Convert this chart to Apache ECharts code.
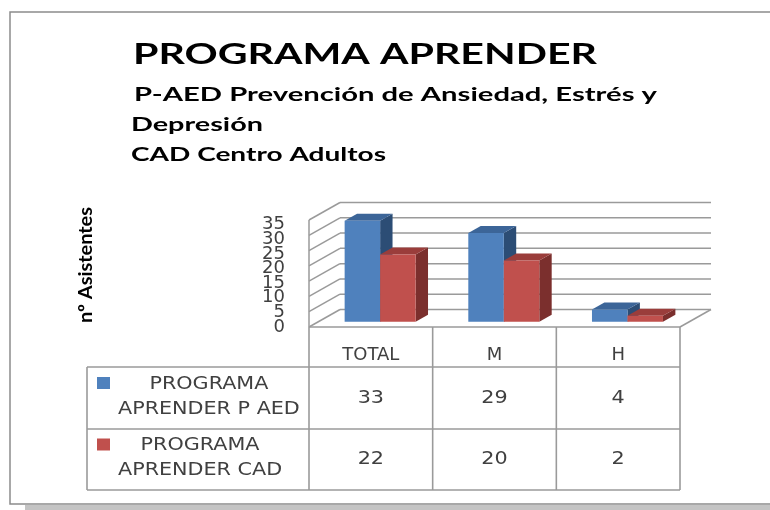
<!DOCTYPE html>
<html>
<head>
<meta charset="utf-8">
<script src="https://cdn.jsdelivr.net/npm/echarts@6/dist/echarts.min.js"></script>
<style>
html, body { margin: 0; padding: 0; background: #fff; }
#chart { width: 770px; height: 510px; }
</style>
</head>
<body>
<div id="chart"></div>
<script>
var categories = ['TOTAL', 'M', 'H'];
var seriesNames = ['PROGRAMA APRENDER P AED', 'PROGRAMA APRENDER CAD'];
var legendLines = [['PROGRAMA', 'APRENDER P AED'], ['PROGRAMA', 'APRENDER CAD']];
var aedValues = [33, 29, 4];
var cadValues = [22, 20, 2];
var yTicks = [0, 5, 10, 15, 20, 25, 30, 35];
var titleText = 'PROGRAMA APRENDER';
var subtitleLines = [' P-AED Prevención de Ansiedad, Estrés y', 'Depresión', 'CAD Centro Adultos'];
var axisName = 'nº Asistentes';

// depth of the fake 3d box (pixels)
var DX = 31, DY = -17.5;
var gridColor = '#9a9a9a';
var textGrey = '#404040';
var headFamily = '"Lato", "Open Sans", "Noto Sans", sans-serif';

var ctx = document.createElement('canvas').getContext('2d');
function textWidth(str, font) {
    ctx.font = font;
    return ctx.measureText(str).width;
}

function barRenderer(colors, slot) {
    return function (params, api) {
        var cat = api.value(0);
        var base = api.coord([cat, 0]);
        var top = api.coord([cat, api.value(1)]);
        var band = api.size([1, 0])[0];
        var bw = band * 0.287;
        var fx = base[0] + DX * 0.3 + (slot === 0 ? -bw : 0);
        var fy0 = base[1] + DY * 0.3;
        var fy1 = top[1] + DY * 0.3;
        var ddx = DX * 0.4, ddy = DY * 0.4;
        return {
            type: 'group',
            children: [
                { type: 'polygon', shape: { points: [[fx + bw, fy1], [fx + bw + ddx, fy1 + ddy], [fx + bw + ddx, fy0 + ddy], [fx + bw, fy0]] }, style: { fill: colors[2] } },
                { type: 'polygon', shape: { points: [[fx, fy1], [fx + bw, fy1], [fx + bw + ddx, fy1 + ddy], [fx + ddx, fy1 + ddy]] }, style: { fill: colors[1] } },
                { type: 'rect', shape: { x: fx, y: fy1, width: bw, height: fy0 - fy1 }, style: { fill: colors[0] } }
            ]
        };
    };
}

function ln(x1, y1, x2, y2, w) {
    return { type: 'line', shape: { x1: x1, y1: y1, x2: x2, y2: y2 }, style: { stroke: gridColor, lineWidth: w || 1.5 } };
}

// back wall, side wall, floor and the value labels of the left wall
function wallRenderer(params, api) {
    var cs = params.coordSys;
    var v = api.value(1);
    var y = api.coord([0, v])[1];
    var x0 = cs.x, x1 = cs.x + cs.width;
    var yb = cs.y + cs.height;
    var ch = [
        ln(x0 + DX, y + DY, x1 + DX, y + DY),
        ln(x0, y, x0 + DX, y + DY),
        {
            type: 'text', x: x0 - 24, y: y + (yb - y) * 0.045,
            style: { text: String(v), font: '18px "DejaVu Sans"', fill: textGrey, align: 'right', verticalAlign: 'middle' }
        }
    ];
    if (v === yTicks[0]) {
        ch.push(ln(x0, y, x1, y));
        ch.push(ln(x1, y, x1 + DX, y + DY));
    }
    if (v === yTicks[yTicks.length - 1]) {
        ch.push(ln(x0, yb, x0, cs.y));
    }
    return { type: 'group', children: ch };
}

var chart = echarts.init(document.getElementById('chart'));

var option = {
    backgroundColor: '#fff',
    animation: false,
    grid: { left: 309, top: 220, width: 371, height: 107 },
    xAxis: {
        type: 'category',
        data: categories,
        axisLine: { show: false },
        axisTick: { show: false },
        axisLabel: { margin: 28, verticalAlign: 'middle', fontFamily: 'DejaVu Sans', fontSize: 18, color: textGrey }
    },
    yAxis: {
        type: 'value',
        min: 0,
        max: 35,
        interval: 5,
        axisLine: { show: false },
        axisTick: { show: false },
        splitLine: { show: false },
        axisLabel: { show: false }
    },
    series: [
        {
            type: 'custom',
            name: 'walls',
            silent: true,
            clip: false,
            renderItem: wallRenderer,
            encode: { x: 0, y: 1 },
            data: yTicks.map(function (v) { return [0, v]; })
        },
        {
            type: 'custom',
            name: seriesNames[0],
            clip: false,
            renderItem: barRenderer(['#4F81BD', '#3C6598', '#2C4D75'], 0),
            encode: { x: 0, y: 1 },
            data: aedValues.map(function (v, i) { return [i, v]; })
        },
        {
            type: 'custom',
            name: seriesNames[1],
            clip: false,
            renderItem: barRenderer(['#C0504D', '#9A3D3B', '#7B2F2D'], 1),
            encode: { x: 0, y: 1 },
            data: cadValues.map(function (v, i) { return [i, v]; })
        }
    ]
};
chart.setOption(option);

var g = [];
g.push({ type: 'rect', shape: { x: 25, y: 505, width: 760, height: 6 }, style: { fill: '#c4c4c4' } });
g.push({ type: 'rect', shape: { x: 10, y: 12, width: 800, height: 492 }, style: { fill: 'none', stroke: '#8c8c8c', lineWidth: 1.5 } });

function txt(str, x, y, font, align, sx, color, rot) {
    return {
        type: 'text', x: x, y: y, scaleX: sx || 1, rotation: rot || 0,
        style: { text: str, font: font, fill: color || '#000', align: align || 'left', verticalAlign: 'middle', textAlign: align || 'left', textVerticalAlign: 'middle' }
    };
}
// text stretched to the width it has in the original picture
function fitted(str, x, y, font, w) {
    return txt(str, x, y, font, 'left', w / textWidth(str, font));
}

var titleFont = 'bold 28px ' + headFamily;
var subFont = 'bold 19px ' + headFamily;
g.push(fitted(titleText, 133, 55, titleFont, 464));
var subX = [127, 131, 131];
var subY = [95, 125, 155];
var subW = [530, 132, 255];
subtitleLines.forEach(function (s, i) {
    g.push(fitted(s, subX[i], subY[i], subFont, subW[i]));
});
var axFont = 'bold 19px ' + headFamily;
g.push(txt(axisName, 86, 265, axFont, 'center', 116 / textWidth(axisName, axFont), '#000', Math.PI / 2));

// data table
var centers = categories.map(function (c, i) { return chart.convertToPixel({ gridIndex: 0 }, [i, 0])[0]; });
var band = centers[1] - centers[0];
var floorY = chart.convertToPixel({ gridIndex: 0 }, [0, 0])[1];
var rowY = [367, 429, 490];
var tableLeft = 87;
var colX = [centers[0] - band / 2].concat(centers.map(function (c) { return c + band / 2; }));
colX.forEach(function (x) { g.push(ln(x, floorY, x, rowY[2], 1.6)); });
g.push(ln(tableLeft, rowY[0], tableLeft, rowY[2], 1.6));
rowY.forEach(function (y) { g.push(ln(tableLeft, y, colX[colX.length - 1], y, 1.6)); });

var tFont = '18px "DejaVu Sans"';
var tStretch = 1.15;
var rowValues = [aedValues, cadValues];
var keyColors = ['#4F81BD', '#C0504D'];
rowValues.forEach(function (vals, r) {
    var cy = (rowY[r] + rowY[r + 1]) / 2;
    vals.forEach(function (v, i) {
        g.push(txt(String(v), centers[i], cy, tFont, 'center', tStretch, textGrey));
    });
    var lines = legendLines[r];
    var wMax = Math.max.apply(null, lines.map(function (l) { return textWidth(l, tFont); })) * tStretch;
    var bx = 118 + wMax / 2;
    g.push(txt(lines[0], bx, cy - 14, tFont, 'center', tStretch, textGrey));
    g.push(txt(lines[1], bx, cy + 11, tFont, 'center', tStretch, textGrey));
    g.push({ type: 'rect', shape: { x: 97, y: cy - 21, width: 13, height: 12 }, style: { fill: keyColors[r] } });
});

chart.setOption({ graphic: { elements: g } });
</script>
</body>
</html>
